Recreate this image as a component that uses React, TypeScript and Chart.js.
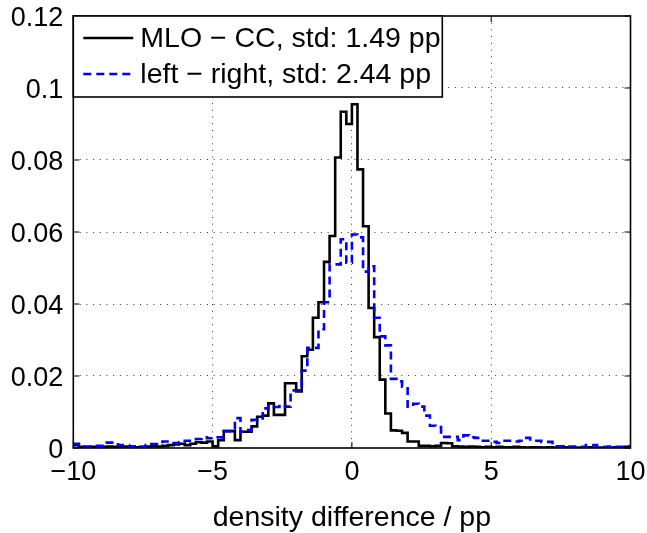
import { useEffect, useRef } from "react";
import { Chart, registerables } from "chart.js";

Chart.register(...registerables);

// Histogram bins: left edges start at BIN_START, each BIN_WIDTH wide
const BIN_START = -10;
const BIN_WIDTH = 0.2;

// MLO − CC (black, solid)
const mloCcValues = [
  0.0008, 0.0003, 0.0002, 0.0003, 0.0002, 0.0003, 0.0004, 0.0003, 0.0003, 0.0004,
  0.0003, 0.0002, 0.0003, 0.0004, 0.0005, 0.0004, 0.0006, 0.0008, 0.0010, 0.0012,
  0.0008, 0.0012, 0.0016, 0.0015, 0.0018, 0.0005, 0.0022, 0.0047, 0.0047, 0.0022,
  0.0045, 0.0045, 0.0060, 0.0087, 0.0090, 0.0124, 0.0092, 0.0092, 0.0180, 0.0180,
  0.0157, 0.0255, 0.0273, 0.0362, 0.0405, 0.0517, 0.0589, 0.0807, 0.0934, 0.0900,
  0.0955, 0.0774, 0.0616, 0.0389, 0.0308, 0.0190, 0.0096, 0.0049, 0.0048, 0.0042,
  0.0018, 0.0018, 0.0006, 0.0006, 0.0005, 0.0006, 0.0014, 0.0013, 0.0005, 0.0004,
  0.0003, 0.0004, 0.0003, 0.0002, 0.0003, 0.0002, 0.0003, 0.0002, 0.0002, 0.0003,
  0.0002, 0.0001, 0.0002, 0.0002, 0.0001, 0.0002, 0.0001, 0.0001, 0.0002, 0.0001,
  0.0001, 0.0001, 0.0002, 0.0001, 0.0001, 0.0001, 0.0001, 0.0002, 0.0001, 0.0003,
];

// left − right (blue, dashed)
const leftRightValues = [
  0.0012, 0.0008, 0.0004, 0.0004, 0.0006, 0.0006, 0.0015, 0.0010, 0.0008, 0.0008,
  0.0005, 0.0004, 0.0003, 0.0008, 0.0011, 0.0011, 0.0018, 0.0018, 0.0014, 0.0016,
  0.0020, 0.0020, 0.0025, 0.0030, 0.0027, 0.0030, 0.0030, 0.0047, 0.0047, 0.0083,
  0.0045, 0.0050, 0.0078, 0.0082, 0.0110, 0.0117, 0.0114, 0.0120, 0.0115, 0.0160,
  0.0160, 0.0215, 0.0278, 0.0278, 0.0330, 0.0405, 0.0510, 0.0510, 0.0580, 0.0515,
  0.0593, 0.0585, 0.0490, 0.0505, 0.0362, 0.0310, 0.0285, 0.0192, 0.0185, 0.0170,
  0.0115, 0.0123, 0.0115, 0.0090, 0.0062, 0.0058, 0.0031, 0.0031, 0.0031, 0.0022,
  0.0035, 0.0030, 0.0028, 0.0020, 0.0020, 0.0017, 0.0014, 0.0020, 0.0020, 0.0018,
  0.0020, 0.0028, 0.0020, 0.0020, 0.0017, 0.0017, 0.0005, 0.0005, 0.0004, 0.0004,
  0.0004, 0.0003, 0.0008, 0.0008, 0.0003, 0.0003, 0.0004, 0.0003, 0.0003, 0.0005,
];

const seriesLabels = ["MLO − CC, std: 1.49 pp", "left − right, std: 2.44 pp"];
const xTickValues = [-10, -5, 0, 5, 10];
const yTickValues = [0, 0.02, 0.04, 0.06, 0.08, 0.1, 0.12];
const xAxisTitle = "density difference / pp";

const FONT = "'Liberation Sans', Arial, Helvetica, sans-serif";
const TICK_SIZE = 27;
const TEXT_SIZE = 28.5;

function toSteps(values: number[]) {
  const pts = values.map((v, i) => ({ x: BIN_START + i * BIN_WIDTH, y: v }));
  pts.push({ x: BIN_START + values.length * BIN_WIDTH, y: values[values.length - 1] });
  return pts;
}

const fmt = (v: number) => String(Number(Number(v).toFixed(2))).replace("-", "\u2212");

const framePlugin = {
  id: "frame",
  afterDatasetsDraw(chart: any) {
    const { ctx, chartArea: a, scales } = chart;
    ctx.save();
    ctx.setLineDash([]);
    // inward tick marks on all four sides
    ctx.strokeStyle = "#000";
    ctx.lineWidth = 1;
    const L = 6;
    ctx.beginPath();
    for (const v of xTickValues) {
      const x = scales.x.getPixelForValue(v);
      ctx.moveTo(x, a.bottom);
      ctx.lineTo(x, a.bottom - L);
      ctx.moveTo(x, a.top);
      ctx.lineTo(x, a.top + L);
    }
    for (const v of yTickValues) {
      const y = scales.y.getPixelForValue(v);
      ctx.moveTo(a.left, y);
      ctx.lineTo(a.left + L, y);
      ctx.moveTo(a.right, y);
      ctx.lineTo(a.right - L, y);
    }
    ctx.stroke();
    // axes box
    ctx.lineWidth = 1.6;
    ctx.strokeRect(a.left, a.top, a.right - a.left, a.bottom - a.top);

    // legend
    const bx = a.left;
    const by = a.top;
    const bw = 369;
    const bh = 81;
    ctx.fillStyle = "#fff";
    ctx.fillRect(bx, by, bw, bh);
    ctx.lineWidth = 1.6;
    ctx.strokeStyle = "#000";
    ctx.strokeRect(bx, by, bw, bh);
    const rows = [
      { y: by + 22, color: "#000", dash: [] as number[] },
      { y: by + 58, color: "#0000ff", dash: [8, 5] },
    ];
    ctx.font = `${TEXT_SIZE}px ${FONT}`;
    ctx.textBaseline = "middle";
    ctx.textAlign = "left";
    rows.forEach((r, i) => {
      ctx.beginPath();
      ctx.strokeStyle = r.color;
      ctx.lineWidth = 2.6;
      ctx.setLineDash(r.dash);
      ctx.moveTo(bx + 10, r.y);
      ctx.lineTo(bx + 60, r.y);
      ctx.stroke();
      ctx.setLineDash([]);
      ctx.fillStyle = "#000";
      ctx.fillText(seriesLabels[i], bx + 67, r.y + 1);
    });
    ctx.restore();
  },
};

export default function App() {
  const ref = useRef<HTMLCanvasElement | null>(null);

  useEffect(() => {
    if (!ref.current) return;
    const gridColor = (edgeValues: number[]) => (c: any) =>
      c.tick && edgeValues.includes(c.tick.value) ? "rgba(0,0,0,0)" : "rgba(0,0,0,0.8)";

    const chart = new Chart(ref.current, {
      type: "line",
      data: {
        datasets: [
          {
            label: seriesLabels[0],
            data: toSteps(mloCcValues),
            borderColor: "#000",
            borderWidth: 2.6,
            stepped: "before",
            pointRadius: 0,
            fill: false,
            order: 1,
            borderJoinStyle: "miter",
          },
          {
            label: seriesLabels[1],
            data: toSteps(leftRightValues),
            borderColor: "#0000ff",
            borderWidth: 2.6,
            borderDash: [8, 5],
            stepped: "before",
            pointRadius: 0,
            fill: false,
            order: 0,
            borderJoinStyle: "miter",
          },
        ],
      },
      options: {
        animation: false,
        responsive: false,
        devicePixelRatio: 1,
        layout: { padding: { top: 16, right: 16.5, left: 0, bottom: 0 } },
        plugins: { legend: { display: false }, tooltip: { enabled: false } },
        scales: {
          x: {
            type: "linear",
            min: -10,
            max: 10,
            afterBuildTicks: (s: any) => {
              s.ticks = xTickValues.map((v) => ({ value: v }));
            },
            afterFit: (s: any) => {
              s.height = 85;
              s.paddingLeft = 0;
              s.paddingRight = 0;
            },
            ticks: {
              color: "#000",
              font: { family: FONT, size: TICK_SIZE },
              padding: 8,
              maxRotation: 0,
              callback: (v: any) => fmt(v),
            },
            grid: {
              color: gridColor([-10, 10]),
              lineWidth: 1,
              drawTicks: false,
            },
            border: { display: false, dash: [1, 5.7] },
            title: {
              display: true,
              text: xAxisTitle,
              color: "#000",
              font: { family: FONT, size: TEXT_SIZE, lineHeight: 1.05 },
              padding: { top: 0, bottom: 0 },
            },
          },
          y: {
            type: "linear",
            min: 0,
            max: 0.12,
            afterBuildTicks: (s: any) => {
              s.ticks = yTickValues.map((v) => ({ value: v }));
            },
            afterFit: (s: any) => {
              s.width = 73.3;
              s.paddingTop = 0;
              s.paddingBottom = 0;
            },
            ticks: {
              color: "#000",
              font: { family: FONT, size: TICK_SIZE },
              padding: 10,
              labelOffset: 3,
              callback: (v: any) => fmt(v),
            },
            grid: {
              color: gridColor([0, 0.12]),
              lineWidth: 1,
              drawTicks: false,
            },
            border: { display: false, dash: [1, 5.7] },
          },
        },
      },
      plugins: [framePlugin],
    });
    return () => chart.destroy();
  }, []);

  return (
    <div style={{ position: "absolute", left: 0, top: 0, width: 647, height: 533, background: "#fff" }}>
      <canvas ref={ref} width={647} height={533} style={{ display: "block" }} />
    </div>
  );
}
